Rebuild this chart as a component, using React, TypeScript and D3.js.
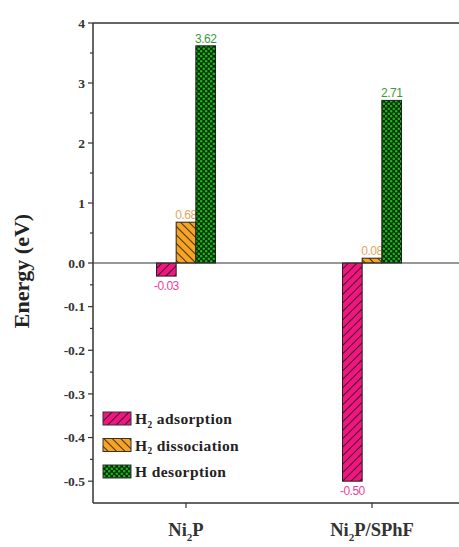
import React from 'react';
import * as d3 from 'd3';

const categories = ['Ni2P', 'Ni2P/SPhF'];
const seriesNames = ['H2 adsorption', 'H2 dissociation', 'H desorption'];
const adsorption = [-0.03, -0.50];
const dissociation = [0.68, 0.08];
const desorption = [3.62, 2.71];
const posTicks = [0, 1, 2, 3, 4];
const negTicks = [-0.1, -0.2, -0.3, -0.4, -0.5];

const W = 459;
const H = 547;
const left = 93;

// broken-ish axis: positive side compressed, negative side stretched
const y = d3.scaleLinear().domain([-0.55, 0, 4]).range([503, 263, 23]);
const x = d3.scaleBand().domain(categories).range([left, left + 372]);
const xSub = d3.scaleBand().domain(seriesNames).range([-29.5, 29.5]);

const fills = ['url(#hatchPink)', 'url(#hatchOrange)', 'url(#dotGreen)'];
const labelColors = ['#e8449c', '#e0a860', '#3c9a3c'];
const locale = d3.formatLocale({ decimal: '.', thousands: ',', grouping: [3], currency: ['', ''], minus: '-' });
const fmt = locale.format('.2f');
const fmt1 = locale.format('.1f');

const serif = '"Liberation Serif", "Times New Roman", serif';
const sans = '"Liberation Sans", Arial, sans-serif';

const Sub = ({ base, sub, rest, size }: { base: string; sub: string; rest: string; size: number }) => (
  <>
    {base}
    <tspan fontSize={size * 0.6} dy={size * 0.25}>{sub}</tspan>
    <tspan dy={-size * 0.25}>{rest}</tspan>
  </>
);

const App = () => {
  const values = [adsorption, dissociation, desorption];
  const minorPos = d3.range(0.5, 4, 1);
  const minorNeg = d3.range(-0.05, -0.55, -0.1);

  return (
    <svg width={W} height={H} style={{ position: 'absolute', left: 0, top: 0, background: '#fff' }}>
      <defs>
        <pattern id="hatchPink" width="6" height="6" patternUnits="userSpaceOnUse" patternTransform="rotate(45)">
          <rect width="6" height="6" fill="#f0157f" />
          <line x1="0" y1="0" x2="0" y2="6" stroke="#111" strokeWidth="1.6" />
        </pattern>
        <pattern id="hatchOrange" width="6" height="6" patternUnits="userSpaceOnUse" patternTransform="rotate(-45)">
          <rect width="6" height="6" fill="#f7a425" />
          <line x1="0" y1="0" x2="0" y2="6" stroke="#111" strokeWidth="1.6" />
        </pattern>
        <pattern id="dotGreen" width="5" height="5" patternUnits="userSpaceOnUse">
          <rect width="5" height="5" fill="#062b06" />
          <circle cx="1.25" cy="1.25" r="1.3" fill="#16b816" />
          <circle cx="3.75" cy="3.75" r="1.3" fill="#16b816" />
        </pattern>
      </defs>

      {/* frame */}
      <line x1={left} x2={W} y1={y(4)} y2={y(4)} stroke="#333" strokeWidth={1.5} />
      <line x1={left} x2={W} y1={y(-0.55)} y2={y(-0.55)} stroke="#333" strokeWidth={1.5} />
      <line x1={left} x2={left} y1={y(4)} y2={y(-0.55)} stroke="#333" strokeWidth={1.5} />

      {/* bars */}
      {values.map((vals, si) =>
        vals.map((v, ci) => {
          const bx = (x(categories[ci]) as number) + x.bandwidth() / 2 + (xSub(seriesNames[si]) as number);
          const y0 = Math.min(y(0), y(v));
          const h = Math.abs(y(v) - y(0));
          return (
            <g key={`${si}-${ci}`}>
              <rect x={bx} y={y0} width={xSub.bandwidth()} height={h} fill={fills[si]} stroke="#222" strokeWidth={1} />
              <text
                x={bx + xSub.bandwidth() / 2}
                y={v < 0 ? y(v) + 14 : y(v) - 3}
                textAnchor="middle"
                fontFamily={sans}
                fontSize={12}
                fill={labelColors[si]}
                letterSpacing={-0.5}
              >
                {fmt(v)}
              </text>
            </g>
          );
        })
      )}

      {/* zero line */}
      <line x1={left} x2={W} y1={y(0)} y2={y(0)} stroke="#333" strokeWidth={1.2} />

      {/* y ticks */}
      {[...posTicks, ...negTicks].map(t => (
        <g key={t}>
          <line x1={left - 5} x2={left} y1={y(t)} y2={y(t)} stroke="#333" strokeWidth={1.2} />
          <text x={left - 8} y={y(t)} dy="0.35em" textAnchor="end" fontFamily={serif} fontWeight="bold" fontSize={13.5} fill="#333">
            {t === 0 ? '0.0' : t > 0 ? String(t) : fmt1(t)}
          </text>
        </g>
      ))}
      {[...minorPos, ...minorNeg].map(t => (
        <line key={`m${t}`} x1={left - 3} x2={left} y1={y(t)} y2={y(t)} stroke="#333" strokeWidth={1.2} />
      ))}

      {/* x ticks */}
      {categories.map(c => {
        const cx = (x(c) as number) + x.bandwidth() / 2;
        const parts = c.split('2');
        return (
          <g key={c}>
            <line x1={cx} x2={cx} y1={y(-0.55)} y2={y(-0.55) + 5} stroke="#333" strokeWidth={1.2} />
            <text x={cx} y={y(-0.55) + 33} textAnchor="middle" fontFamily={serif} fontWeight="bold" fontSize={18.5} fill="#333">
              <Sub base={parts[0]} sub="2" rest={parts[1]} size={18.5} />
            </text>
          </g>
        );
      })}

      {/* y title */}
      <text
        transform={`translate(29,${y(0) + 8}) rotate(-90)`}
        textAnchor="middle"
        fontFamily={serif}
        fontWeight="bold"
        fontSize={22}
        fill="#222"
      >
        Energy (eV)
      </text>

      {/* legend */}
      {seriesNames.map((s, i) => {
        const ly = 412 + i * 26.5;
        const hasSub = s.startsWith('H2');
        return (
          <g key={s} transform={`translate(103,${ly})`}>
            <rect width={28} height={13} fill={fills[i]} stroke="#333" strokeWidth={1} />
            <text x={32} y={12} fontFamily={serif} fontSize={15.5} fontWeight={600} letterSpacing={0.4} fill="#222">
              {hasSub ? <Sub base="H" sub="2" rest={s.slice(2)} size={15.5} /> : s}
            </text>
          </g>
        );
      })}
    </svg>
  );
};

export default App;
